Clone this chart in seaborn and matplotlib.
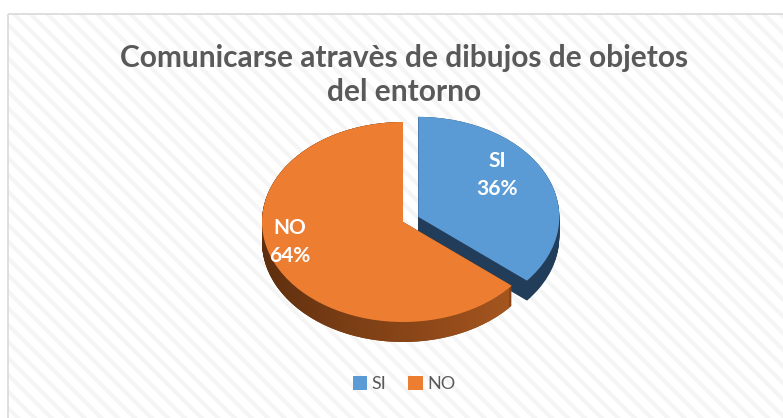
import numpy as np
import matplotlib
matplotlib.use("Agg")
import matplotlib.pyplot as plt
import seaborn as sns
from matplotlib.patches import Rectangle
from matplotlib.colors import LinearSegmentedColormap

# ---- data ----
title = "Comunicarse atravès de dibujos de objetos\ndel entorno"
categories = ["SI", "NO"]
values = [36, 64]
top_colors = ["#5B9BD5", "#ED7D31"]
explode = [0.12, 0.0]

sns.set_theme(style="white")
plt.rcParams["font.family"] = ["Lato", "DejaVu Sans"]

W, H = 783, 418
fig = plt.figure(figsize=(W / 100, H / 100), dpi=100)
fig.patch.set_facecolor("white")

# background with faint diagonal stripes and frame
bg = fig.add_axes([0, 0, 1, 1])
bg.set_xlim(0, W)
bg.set_ylim(H, 0)
bg.axis("off")
plt.rcParams["hatch.linewidth"] = 3.0
bg.add_patch(Rectangle((8, 14), W, H, facecolor="white", edgecolor="#f5f5f5",
                       hatch="\\\\", linewidth=0, zorder=0))
bg.add_patch(Rectangle((8, 14), W, H, facecolor="none", edgecolor="#d9d9d9",
                       linewidth=1.2, zorder=1))

# pie axes: unit circle -> ellipse rx=141px, ry=100px centred at (403, 222)
cx, cy, rx, ry = 403, 222, 141, 100
span = 1.5
ax = fig.add_axes([(cx - span * rx) / W, (H - cy - span * ry) / H,
                   2 * span * rx / W, 2 * span * ry / H])
depth = 0.2
layers = np.linspace(depth, 0.0, 26)

side_blue = "#223D5A"
orange_cmap = LinearSegmentedColormap.from_list(
    "os", ["#5E2F0F", "#7A3E15", "#8E4819", "#A5561F"])
grad = np.linspace(0, 1, 256).reshape(1, -1)

for k in layers:
    wedges, _ = ax.pie(values, explode=explode, startangle=90, counterclock=False,
                       center=(0, -k), colors=[side_blue, "#8A4518"],
                       wedgeprops=dict(linewidth=0))
    wedges[0].set_zorder(1)
    wedges[1].set_zorder(2)
    im = ax.imshow(grad, cmap=orange_cmap, extent=(-1.0, 0.75, -1.4, 1.2),
                   aspect="auto", zorder=2.1, interpolation="bilinear")
    im.set_clip_path(wedges[1])

tops, _ = ax.pie(values, explode=explode, startangle=90, counterclock=False,
                 colors=top_colors, wedgeprops=dict(linewidth=0))
for w in tops:
    w.set_zorder(3)

ax.set_aspect("auto")
ax.set_xlim(-span, span)
ax.set_ylim(-span, span)
ax.axis("off")

# data labels
ax.text(0.667, 0.47, f"{categories[0]}\n{values[0]}%", ha="center", va="center",
        color="white", fontsize=15, fontweight="bold", linespacing=1.45, zorder=5)
ax.text(-0.80, -0.20, f"{categories[1]}\n{values[1]}%", ha="center", va="center",
        color="white", fontsize=15, fontweight="bold", linespacing=1.45, zorder=5)

# title
fig.text(404 / W, 1 - 75 / H, title, ha="center", va="center", color="#595959",
         fontsize=21.5, fontweight="bold", linespacing=1.3)

# legend
handles = [Rectangle((0, 0), 1, 1, facecolor=c, edgecolor="none") for c in top_colors]
leg = fig.legend(handles, categories, loc="center", bbox_to_anchor=(404 / W, 1 - 384 / H),
                 ncol=2, frameon=False, fontsize=13, handlelength=0.8, handleheight=0.8,
                 handletextpad=0.25, columnspacing=1.2)
for t in leg.get_texts():
    t.set_color("#595959")

fig.savefig("out.png", dpi=100)
